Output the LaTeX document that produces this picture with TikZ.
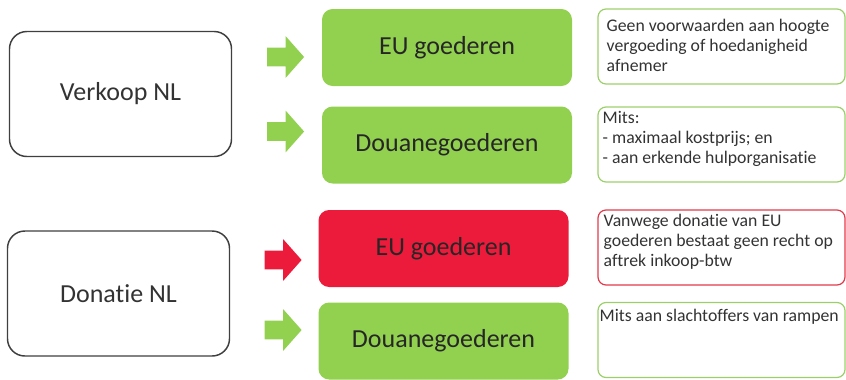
\documentclass[tikz,border=0pt]{standalone}
\usepackage{fontspec}
\setmainfont{Carlito}[Ligatures = NoCommon]
\usepackage{tikz}
\usetikzlibrary{shapes.arrows}
\definecolor{okgroen}{HTML}{92D050}
\definecolor{nietrood}{HTML}{EC1B3B}
\definecolor{randgrijs}{HTML}{3F3F3F}
\definecolor{notegroen}{HTML}{9CCF6A}
\definecolor{noterood}{HTML}{E23A4C}

\begin{document}
\begin{tikzpicture}[x = 0.75pt, y = -0.75pt,
  soortbox/.style = {draw = randgrijs, line width = 1.1pt, rounded corners = 13pt,
    minimum width = 166.5pt, minimum height = 93.75pt,
    font = \fontsize{19.5}{23}\selectfont, text = black!80},
  goedbox/.style = {fill = #1, draw = none, rounded corners = 8pt,
    minimum width = 187.5pt, minimum height = 57.75pt,
    font = \fontsize{19.5}{23}\selectfont, text = black!85},
  notebox/.style = {draw = #1, line width = 0.9pt, rounded corners = 6pt,
    minimum width = 185.25pt, minimum height = 56.25pt},
  notetekst/.style = {anchor = north west, inner sep = 0pt, align = left,
    font = \fontsize{13.3}{15}\selectfont, text = black!80},
  pijl/.style = {single arrow, fill = #1, draw = none, minimum height = 27.75pt,
    inner xsep = 0pt, inner ysep = 6.75pt, single arrow head extend = 8.625pt,
    single arrow tip angle = 97}]
\useasboundingbox (0, 0) rectangle (846, 379);

% verkoop
\node (verkoop) [soortbox] at (120.5, 94) {Verkoop NL};
\node (pijl1) [pijl = okgroen] at (281.5, 57) {};
\node (pijl2) [pijl = okgroen] at (281.5, 131.5) {};
\node (euv) [goedbox = okgroen] at (447, 47.5) {EU goederen};
\node (douv) [goedbox = okgroen] at (447, 145) {Douanegoederen};
\node (n1) [notebox = notegroen] at (721.5, 46.5) {};
\node (n2) [notebox = notegroen] at (721.5, 144.5) {};
\node (t1) [notetekst] at ([shift = {(9, 11)}]n1.north west)
  {Geen voorwaarden aan hoogte\\vergoeding of hoedanigheid\\afnemer};
\node (t2) [notetekst] at ([shift = {(5, 5)}]n2.north west)
  {Mits:\\- maximaal kostprijs; en\\- aan erkende hulporganisatie};

% donatie
\node (donatie) [soortbox] at (118.5, 293.5) {Donatie NL};
\node (pijl3) [pijl = nietrood] at (279, 260) {};
\node (pijl4) [pijl = okgroen] at (279, 330) {};
\node (eud) [goedbox = nietrood] at (443.5, 248.5) {EU goederen};
\node (doud) [goedbox = okgroen] at (443.5, 341) {Douanegoederen};
\node (n3) [notebox = noterood] at (721.5, 247.5) {};
\node (n4) [notebox = notegroen] at (721.5, 340) {};
\node (t3) [notetekst] at ([shift = {(6, 5)}]n3.north west)
  {Vanwege donatie van EU\\goederen bestaat geen recht op\\aftrek inkoop-btw};
\node (t4) [notetekst] at ([shift = {(2, 7)}]n4.north west)
  {Mits aan slachtoffers van rampen};
\end{tikzpicture}
\end{document}
